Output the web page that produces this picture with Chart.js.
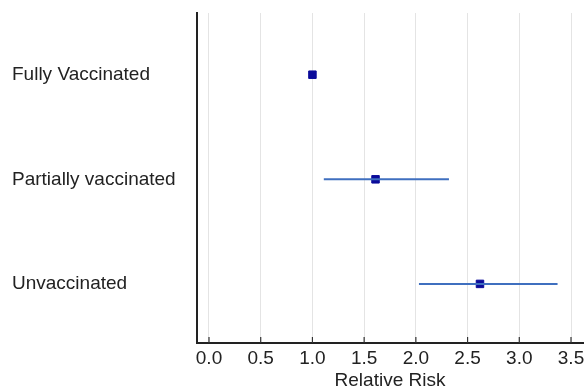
<!DOCTYPE html>
<html>
<head>
<meta charset="utf-8">
<script src="https://cdn.jsdelivr.net/npm/chart.js@4/dist/chart.umd.min.js"></script>
<style>
  html, body { margin: 0; padding: 0; background: #fff; }
  #wrap { width: 587px; height: 390px; }
</style>
</head>
<body>
<div id="wrap"><canvas id="chart"></canvas></div>
<script>
// groups, top to bottom
const groups = ['Fully Vaccinated', 'Partially vaccinated', 'Unvaccinated'];
const riskValues = [1.0, 1.61, 2.62];
const ciLow = [1.0, 1.11, 2.03];
const ciHigh = [1.0, 2.32, 3.37];
const xTicks = [0, 0.5, 1, 1.5, 2, 2.5, 3, 3.5];

// small dark ticks drawn inside the plot, above the x axis
const innerTicks = {
  id: 'innerTicks',
  afterDraw(chart) {
    const ctx = chart.ctx, xs = chart.scales.x, bottom = chart.chartArea.bottom;
    ctx.save();
    ctx.strokeStyle = '#333';
    ctx.lineWidth = 1.2;
    xTicks.forEach(v => {
      const px = xs.getPixelForValue(v);
      ctx.beginPath();
      ctx.moveTo(px, bottom);
      ctx.lineTo(px, bottom - 6);
      ctx.stroke();
    });
    ctx.restore();
  }
};

const datasets = [];
groups.forEach((g, i) => {
  datasets.push({
    type: 'line',
    data: [{ x: ciLow[i], y: i }, { x: ciHigh[i], y: i }],
    borderColor: '#3f6fbf',
    borderWidth: 2,
    pointRadius: 0,
    showLine: true
  });
});
datasets.push({
  type: 'scatter',
  data: riskValues.map((v, i) => ({ x: v, y: i })),
  pointStyle: 'rect',
  pointRadius: 5.3,
  backgroundColor: '#0b0b9a',
  borderColor: '#0b0b9a',
  borderWidth: 1
});

const font = { family: 'Liberation Sans', size: 19 };

new Chart(document.getElementById('chart'), {
  type: 'scatter',
  data: { datasets: datasets },
  options: {
    responsive: true, maintainAspectRatio: false,
    animation: false,
    layout: { autoPadding: false, padding: { left: 12, top: 13, right: 4, bottom: 1 } },
    plugins: { legend: { display: false }, tooltip: { enabled: false } },
    scales: {
      x: {
        type: 'linear', min: -0.116, max: 3.616,
        afterBuildTicks: s => { s.ticks = xTicks.map(v => ({ value: v })); },
        afterFit: s => { s.height = 46; s.paddingLeft = 0; s.paddingRight = 0; },
        ticks: {
          color: '#222', padding: 4, maxRotation: 0,
          font: font,
          callback: v => v.toFixed(1)
        },
        grid: { color: '#e4e4e4', lineWidth: 1, tickLength: 0 },
        border: { color: '#222', width: 2 },
        title: {
          display: true, text: 'Relative Risk', color: '#222',
          font: font, padding: { top: 2, bottom: -3 }
        }
      },
      y: {
        type: 'linear', min: -0.59, max: 2.565, reverse: true,
        afterBuildTicks: s => { s.ticks = groups.map((g, i) => ({ value: i })); },
        afterFit: s => { s.width = 185; s.paddingTop = 0; s.paddingBottom = 0; },
        ticks: {
          color: '#222', crossAlign: 'far',
          font: font,
          callback: v => groups[v]
        },
        grid: { display: false },
        border: { color: '#222', width: 2 }
      }
    }
  },
  plugins: [innerTicks]
});
</script>
</body>
</html>
